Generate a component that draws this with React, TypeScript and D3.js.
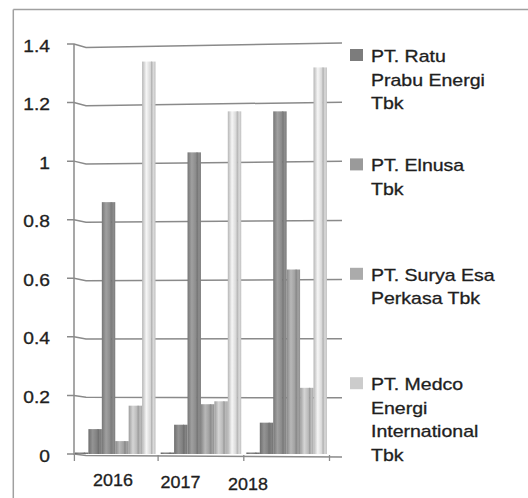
import React from 'react'
import * as d3 from 'd3'

const YEARS = ['2016', '2017', '2018']
// six series drawn per year; the first one sits at zero (flat floor piece)
const S_ZERO = [0, 0, 0]
const S_RATU_A = [0.085, 0.1, 0.107]
const S_ELNUSA_B = [0.86, 1.03, 1.17]
const S_SURYA_C = [0.044, 0.17, 0.63]
const S_SURYA_D = [0.165, 0.18, 0.226]
const S_MEDCO_E = [1.34, 1.17, 1.32]
const SERIES = [S_ZERO, S_RATU_A, S_ELNUSA_B, S_SURYA_C, S_SURYA_D, S_MEDCO_E]
const BAR_COLORS = ['#7a7a7a', '#838383', '#8d8d8d', '#a2a2a2', '#bcbcbc', '#d9d9d9']

const Y_TICKS = [0, 0.2, 0.4, 0.6, 0.8, 1, 1.2, 1.4]

const LEGEND = [
  ['PT. Ratu', 'Prabu Energi', 'Tbk'],
  ['PT. Elnusa', 'Tbk'],
  ['PT. Surya Esa', 'Perkasa Tbk'],
  ['PT. Medco', 'Energi', 'International', 'Tbk'],
]
const LEGEND_COLORS = ['#7c7c7c', '#9a9a9a', '#ababab', '#cccccc']

const FONT = '"Liberation Sans", Arial, sans-serif'
const INK = '#1e1e1e'
const GRID = '#8a8a8a'

// shared text look: the source is a slightly heavy, wide Arial
const textStyle = { stroke: INK, strokeWidth: 0.3 }

export default function App() {
  const W = 528
  const H = 498

  const y = d3.scaleLinear().domain([0, 1.4]).range([454, 44])
  // back wall slightly in perspective: left and right ends of each grid line
  const yL = d3.scaleLinear().domain([0, 1.4]).range([455.5, 47.5])
  const yR = d3.scaleLinear().domain([0, 1.4]).range([457, 43])

  const x0 = d3.scaleBand().domain(YEARS).range([72.4, 329.5]).paddingInner(0.06).paddingOuter(0.03)
  const x1 = d3.scaleBand().domain(d3.range(SERIES.length).map(String)).range([0, x0.bandwidth()])
  const xLabel = d3.scalePoint().domain(YEARS).range([113, 248])

  const bw = x1.bandwidth()
  const front = bw * 0.7

  return (
    <svg width={W} height={H} style={{ position: 'absolute', left: 0, top: 0, background: '#fff' }}>
      <defs>
        {BAR_COLORS.map((c, i) => {
          const base = d3.color(c)!
          return (
            <React.Fragment key={i}>
              <linearGradient id={`front${i}`} x1="0" x2="1" y1="0" y2="0">
                <stop offset="0" stopColor={base.darker(0.5).formatHex()} />
                <stop offset="0.45" stopColor={base.brighter(0.35).formatHex()} />
                <stop offset="1" stopColor={base.darker(0.15).formatHex()} />
              </linearGradient>
              <linearGradient id={`side${i}`} x1="0" x2="1" y1="0" y2="0">
                <stop offset="0" stopColor={base.darker(0.5).formatHex()} />
                <stop offset="0.5" stopColor={base.formatHex()} />
                <stop offset="1" stopColor={base.darker(0.35).formatHex()} />
              </linearGradient>
            </React.Fragment>
          )
        })}
      </defs>

      {/* frame */}
      <line x1={13.3} x2={W} y1={9.5} y2={9.5} stroke="#a0a0a0" strokeWidth={1.5} />
      <line x1={13.3} x2={13.3} y1={9.5} y2={H} stroke="#a0a0a0" strokeWidth={1.5} />

      {/* grid lines */}
      {Y_TICKS.map((t) => (
        <g key={t}>
          <polyline
            points={`67,${y(t)} 74,${y(t)} 86,${yL(t)} 342,${yR(t)}`}
            fill="none"
            stroke={GRID}
            strokeWidth={1.5}
          />
          <text
            transform={`translate(50,${y(t) + 7.5}) scale(1.2,1)`}
            textAnchor="end"
            fontFamily={FONT}
            fontSize={16}
            fill={INK}
            style={textStyle}
          >
            {t}
          </text>
        </g>
      ))}

      {/* value axis */}
      <line x1={74} x2={74} y1={y(1.4)} y2={y(0) + 1} stroke={GRID} strokeWidth={1.5} />

      {/* category ticks */}
      {d3.range(YEARS.length + 1).map((i) => {
        const tx = x0.range()[0] + i * x0.step() + (i === 0 ? 2 : 0)
        return <line key={i} x1={tx} x2={tx} y1={455} y2={461} stroke={GRID} strokeWidth={1.3} />
      })}

      {/* bars */}
      {YEARS.map((yr, gi) => (
        <g key={yr} transform={`translate(${x0(yr)},0)`}>
          {SERIES.map((s, si) => {
            const bx = x1(String(si))!
            const top = y(s[gi])
            const h = Math.max(y(0) - top, 1.5)
            const t = y(0) - h
            return (
              <g key={si}>
                <rect x={bx} y={t} width={front} height={h} fill={`url(#front${si})`} />
                <rect x={bx + front} y={t} width={bw - front} height={h} fill={`url(#side${si})`} />
                <line x1={bx + front} x2={bx + front} y1={t} y2={t + h} stroke={d3.color(BAR_COLORS[si])!.darker(0.6).formatHex()} strokeWidth={0.8} />
              </g>
            )
          })}
        </g>
      ))}

      {/* category labels */}
      {YEARS.map((yr, i) => (
        <text
          key={yr}
          transform={`translate(${xLabel(yr)},${486 + i * 2}) scale(1.12,1)`}
          textAnchor="middle"
          fontFamily={FONT}
          fontSize={16}
          fill={INK}
          style={textStyle}
        >
          {yr}
        </text>
      ))}

      {/* legend */}
      {LEGEND.map((lines, i) => {
        const base = 62 + i * 109.4
        return (
          <g key={i}>
            <rect x={350} y={base - 13} width={13} height={12} fill={LEGEND_COLORS[i]} />
            {lines.map((ln, li) => (
              <text
                key={li}
                transform={`translate(371,${base + li * 23.5}) scale(1.22,1)`}
                fontFamily={FONT}
                fontSize={16}
                fill={INK}
                style={textStyle}
              >
                {ln}
              </text>
            ))}
          </g>
        )
      })}
    </svg>
  )
}
